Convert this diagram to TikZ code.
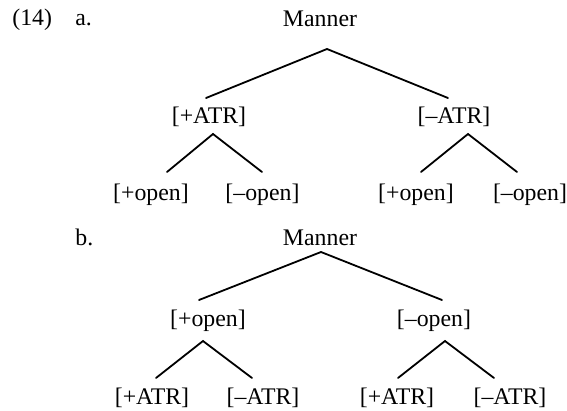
\documentclass[tikz,border=0pt]{standalone}
\usepackage{fontspec}
\setmainfont{Liberation Serif}
\usetikzlibrary{calc}
\begin{document}
\begin{tikzpicture}[x=0.5pt,y=-0.5pt,
  lbl/.style={inner sep=0pt,anchor=base,font=\fontsize{11.9}{14}\selectfont},
  lblw/.style={lbl,anchor=base west},
  branch/.style={line width=0.9pt,line cap=round}]
\useasboundingbox (0,0) rectangle (567,411);

% example numbering
\node[lblw] (num) at (12,26) {(14)};
\node[lblw] (la) at (75,26) {a.};
\node[lblw] (lb) at (75,245) {b.};

% tree (a): ATR above open
\node[lbl] (ma) at (320,26.5) {Manner};
\node[lbl] (pa) at (209,124) {[+ATR]};
\node[lbl] (na) at (454,124) {[–ATR]};
\node[lbl] (a1) at (151,201) {[+open]};
\node[lbl] (a2) at (262.5,201) {[–open]};
\node[lbl] (a3) at (416,201) {[+open]};
\node[lbl] (a4) at (530,201) {[–open]};

\draw[branch] ($(pa.base)+(-3,-26)$) -- ($(ma.base)+(7,22.5)$) -- ($(na.base)+(-6,-26)$);
\draw[branch] ($(a1.base)+(16,-29)$) -- ($(pa.base)+(4,10)$) -- ($(a2.base)+(-0.5,-29)$);
\draw[branch] ($(a3.base)+(5,-29)$) -- ($(na.base)+(14,10)$) -- ($(a4.base)+(-13,-29)$);

% tree (b): open above ATR
\node[lbl] (mb) at (320,246) {Manner};
\node[lbl] (pb) at (208,326) {[+open]};
\node[lbl] (nb) at (434,326) {[–open]};
\node[lbl] (b1) at (152,404) {[+ATR]};
\node[lbl] (b2) at (263,404) {[–ATR]};
\node[lbl] (b3) at (397,404) {[+ATR]};
\node[lbl] (b4) at (510,404) {[–ATR]};

\draw[branch] ($(pb.base)+(-9,-26)$) -- ($(mb.base)+(1,6)$) -- ($(nb.base)+(8,-26)$);
\draw[branch] ($(b1.base)+(4,-26)$) -- ($(pb.base)+(-5,15)$) -- ($(b2.base)+(-11,-26)$);
\draw[branch] ($(b3.base)+(1,-26)$) -- ($(nb.base)+(11,15)$) -- ($(b4.base)+(-16,-26)$);
\end{tikzpicture}
\end{document}
